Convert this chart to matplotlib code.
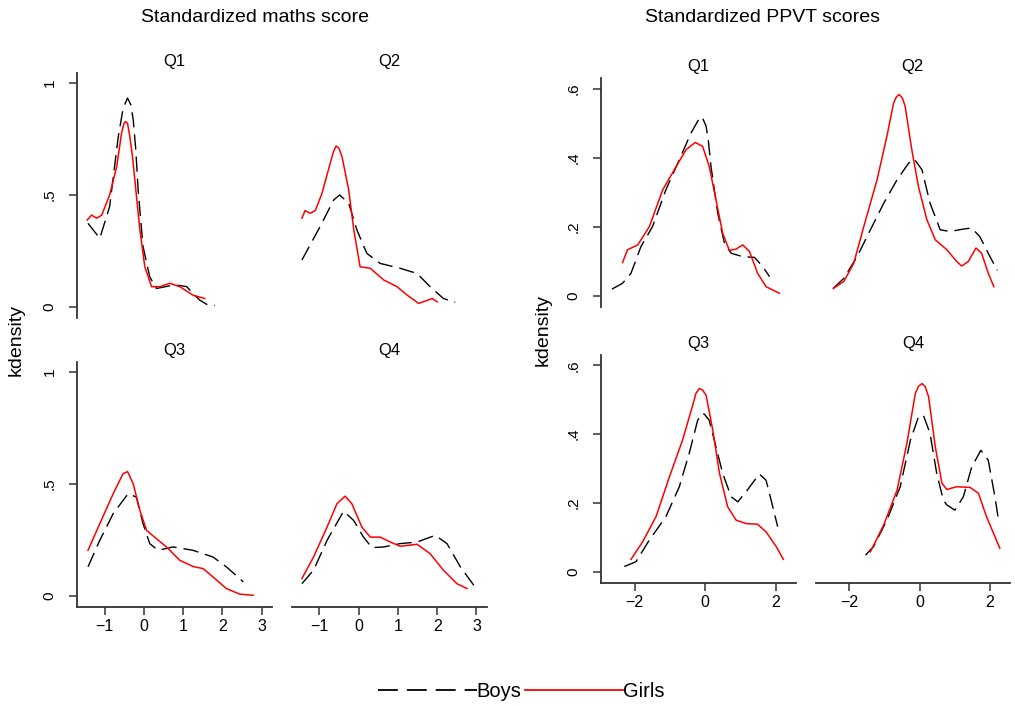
import matplotlib
matplotlib.use("Agg")
import matplotlib.pyplot as plt
from matplotlib.lines import Line2D

plt.rcParams['font.family'] = ['Liberation Sans', 'DejaVu Sans']

# ---- data (x, kdensity) ----
# maths scores
m_q1_boys_x = [-1.42, -1.12, -0.87, -0.65, -0.526, -0.415, -0.331, -0.27, -0.204, -0.145, -0.02, 0.15, 0.32, 0.55, 0.745, 0.92, 1.09, 1.25, 1.42, 1.6, 1.81]
m_q1_boys_y = [0.373, 0.306, 0.448, 0.761, 0.888, 0.933, 0.903, 0.836, 0.701, 0.522, 0.269, 0.134, 0.082, 0.09, 0.097, 0.095, 0.09, 0.06, 0.03, 0.011, 0.006]
m_q1_girls_x = [-1.44, -1.33, -1.2, -1.07, -0.87, -0.69, -0.567, -0.509, -0.466, -0.415, -0.356, -0.288, -0.229, -0.1, 0.025, 0.196, 0.41, 0.66, 0.916, 1.25, 1.55]
m_q1_girls_y = [0.388, 0.41, 0.396, 0.41, 0.5, 0.627, 0.776, 0.818, 0.828, 0.82, 0.761, 0.671, 0.567, 0.343, 0.179, 0.09, 0.09, 0.105, 0.09, 0.052, 0.037]

m_q2_boys_x = [-1.44, -0.98, -0.63, -0.48, -0.25, -0.04, 0.21, 0.55, 1.06, 1.49, 1.82, 2.16, 2.46]
m_q2_boys_y = [0.209, 0.358, 0.478, 0.5, 0.463, 0.343, 0.239, 0.194, 0.172, 0.149, 0.09, 0.037, 0.02]
m_q2_girls_x = [-1.44, -1.36, -1.23, -1.1, -0.93, -0.72, -0.636, -0.57, -0.5, -0.42, -0.25, -0.12, 0.04, 0.3, 0.64, 0.98, 1.24, 1.53, 1.875, 2.0]
m_q2_girls_y = [0.396, 0.43, 0.418, 0.43, 0.507, 0.642, 0.694, 0.719, 0.709, 0.671, 0.522, 0.343, 0.179, 0.172, 0.12, 0.09, 0.052, 0.015, 0.037, 0.022]

m_q3_boys_x = [-1.42, -1.12, -0.78, -0.4, -0.19, -0.02, 0.15, 0.36, 0.745, 1.25, 1.76, 2.1, 2.53]
m_q3_boys_y = [0.128, 0.247, 0.366, 0.455, 0.44, 0.321, 0.232, 0.202, 0.217, 0.202, 0.172, 0.128, 0.061]
m_q3_girls_x = [-1.42, -1.12, -0.78, -0.53, -0.415, -0.27, -0.1, 0.07, 0.32, 0.575, 0.916, 1.25, 1.51, 1.76, 2.1, 2.44, 2.78]
m_q3_girls_y = [0.202, 0.321, 0.455, 0.544, 0.554, 0.499, 0.38, 0.291, 0.254, 0.217, 0.157, 0.13, 0.12, 0.083, 0.031, 0.006, 0.001]

m_q4_boys_x = [-1.44, -1.145, -0.8, -0.38, -0.127, 0.127, 0.34, 0.64, 1.06, 1.49, 1.95, 2.25, 2.59, 2.93]
m_q4_boys_y = [0.053, 0.113, 0.247, 0.377, 0.336, 0.261, 0.214, 0.217, 0.232, 0.239, 0.269, 0.232, 0.128, 0.046]
m_q4_girls_x = [-1.44, -1.145, -0.8, -0.55, -0.34, -0.17, 0.085, 0.3, 0.55, 0.81, 1.06, 1.49, 1.82, 2.16, 2.5, 2.76]
m_q4_girls_y = [0.076, 0.172, 0.306, 0.41, 0.444, 0.41, 0.306, 0.261, 0.261, 0.239, 0.22, 0.229, 0.187, 0.113, 0.053, 0.031]

# PPVT scores
p_q1_boys_x = [-2.64, -2.34, -2.1, -1.82, -1.49, -1.11, -0.73, -0.4, -0.14, -0.07, 0.03, 0.09, 0.17, 0.36, 0.55, 0.74, 1.07, 1.4, 1.64, 1.83]
p_q1_boys_y = [0.019, 0.036, 0.065, 0.142, 0.2, 0.307, 0.394, 0.471, 0.518, 0.515, 0.491, 0.452, 0.374, 0.239, 0.152, 0.123, 0.113, 0.111, 0.084, 0.055]
p_q1_girls_x = [-2.34, -2.2, -1.91, -1.58, -1.2, -0.82, -0.54, -0.28, -0.07, 0.12, 0.31, 0.5, 0.69, 0.88, 1.07, 1.26, 1.49, 1.73, 2.11]
p_q1_girls_y = [0.096, 0.133, 0.147, 0.2, 0.307, 0.374, 0.423, 0.444, 0.433, 0.374, 0.278, 0.181, 0.131, 0.135, 0.147, 0.128, 0.065, 0.026, 0.007]

p_q2_boys_x = [-2.46, -2.16, -1.78, -1.4, -1.02, -0.64, -0.31, -0.15, 0.07, 0.3, 0.59, 0.87, 1.25, 1.49, 1.72, 2.01, 2.22]
p_q2_boys_y = [0.021, 0.05, 0.113, 0.191, 0.268, 0.336, 0.384, 0.396, 0.365, 0.268, 0.191, 0.186, 0.193, 0.196, 0.171, 0.113, 0.073]
p_q2_girls_x = [-2.46, -2.16, -1.875, -1.59, -1.21, -0.93, -0.74, -0.66, -0.58, -0.49, -0.41, -0.22, -0.03, 0.21, 0.45, 0.78, 1.06, 1.2, 1.39, 1.61, 1.77, 1.96, 2.12]
p_q2_girls_y = [0.021, 0.041, 0.094, 0.2, 0.336, 0.462, 0.558, 0.576, 0.583, 0.573, 0.549, 0.423, 0.316, 0.22, 0.162, 0.133, 0.099, 0.086, 0.099, 0.138, 0.123, 0.065, 0.026]

p_q3_boys_x = [-2.29, -1.96, -1.58, -1.11, -0.73, -0.45, -0.21, -0.09, -0.02, 0.12, 0.31, 0.5, 0.74, 0.93, 1.16, 1.54, 1.73, 1.875, 2.06]
p_q3_boys_y = [0.015, 0.029, 0.092, 0.16, 0.247, 0.344, 0.44, 0.46, 0.458, 0.44, 0.363, 0.286, 0.218, 0.203, 0.232, 0.284, 0.266, 0.208, 0.131]
p_q3_girls_x = [-2.1, -1.77, -1.39, -1.01, -0.64, -0.35, -0.26, -0.16, -0.07, 0.03, 0.22, 0.41, 0.64, 0.88, 1.16, 1.49, 1.73, 2.02, 2.22]
p_q3_girls_y = [0.036, 0.087, 0.16, 0.276, 0.382, 0.484, 0.518, 0.533, 0.528, 0.513, 0.411, 0.286, 0.189, 0.15, 0.14, 0.138, 0.116, 0.073, 0.036]

p_q4_boys_x = [-1.54, -1.31, -0.93, -0.55, -0.26, -0.03, 0.11, 0.3, 0.49, 0.68, 0.78, 1.01, 1.25, 1.49, 1.75, 1.96, 2.15, 2.26]
p_q4_boys_y = [0.048, 0.073, 0.15, 0.247, 0.382, 0.45, 0.455, 0.402, 0.286, 0.208, 0.194, 0.179, 0.218, 0.305, 0.353, 0.324, 0.218, 0.145]
p_q4_girls_x = [-1.4, -1.02, -0.64, -0.36, -0.12, -0.03, 0.07, 0.16, 0.26, 0.45, 0.64, 0.78, 1.06, 1.44, 1.68, 1.91, 2.29]
p_q4_girls_y = [0.058, 0.136, 0.237, 0.373, 0.518, 0.539, 0.547, 0.539, 0.508, 0.363, 0.257, 0.239, 0.247, 0.245, 0.228, 0.16, 0.068]

titles = ['Q1', 'Q2', 'Q3', 'Q4']
m_yticks = [0, 0.5, 1]
m_yticklabels = ['0', '.5', '1']
m_xticks = [-1, 0, 1, 2, 3]
m_xticklabels = ['\u22121', '0', '1', '2', '3']
p_yticks = [0, 0.2, 0.4, 0.6]
p_yticklabels = ['0', '.2', '.4', '.6']
p_xticks = [-2, 0, 2]
p_xticklabels = ['\u22122', '0', '2']

W, H = 1015, 706
fig = plt.figure(figsize=(W / 100, H / 100), dpi=100, facecolor='white')

def px_axes(l, t, r, b):
    return fig.add_axes([l / W, 1 - b / H, (r - l) / W, (b - t) / H])

dash = (0, (11, 5))
red = '#ff0000'

def panel(ax, bx, by, gx, gy, title, show_y, show_x, xlim, ylim, yt, ytl, xt, xtl):
    ax.plot(bx, by, color='black', lw=1.0, linestyle=dash)
    ax.plot(gx, gy, color=red, lw=1.1)
    ax.set_xlim(xlim)
    ax.set_ylim(ylim)
    ax.set_title(title, fontsize=12, pad=5)
    for s in ['top', 'right']:
        ax.spines[s].set_visible(False)
    ax.spines['left'].set_visible(show_y)
    ax.spines['bottom'].set_visible(show_x)
    for s in ['left', 'bottom']:
        ax.spines[s].set_color('#333333')
        ax.spines[s].set_linewidth(1.3)
    if show_y:
        ax.set_yticks(yt)
        ax.set_yticklabels(ytl, rotation=90, va='center', fontsize=11)
        ax.tick_params(axis='y', length=6, width=1.1, color='#333333', pad=8.5)
    else:
        ax.set_yticks([])
    if show_x:
        ax.set_xticks(xt)
        ax.set_xticklabels(xtl, fontsize=11.5)
        ax.tick_params(axis='x', length=6, width=1.1, color='#333333', pad=3)
    else:
        ax.set_xticks([])
    ax.patch.set_alpha(0)

m_xlim = (-1.70, 3.26)
m_ylim = (-0.05, 1.045)
p_xlim = (-2.96, 2.58)
p_ylim = (-0.032, 0.63)

m_data = [(m_q1_boys_x, m_q1_boys_y, m_q1_girls_x, m_q1_girls_y),
          (m_q2_boys_x, m_q2_boys_y, m_q2_girls_x, m_q2_girls_y),
          (m_q3_boys_x, m_q3_boys_y, m_q3_girls_x, m_q3_girls_y),
          (m_q4_boys_x, m_q4_boys_y, m_q4_girls_x, m_q4_girls_y)]
p_data = [(p_q1_boys_x, p_q1_boys_y, p_q1_girls_x, p_q1_girls_y),
          (p_q2_boys_x, p_q2_boys_y, p_q2_girls_x, p_q2_girls_y),
          (p_q3_boys_x, p_q3_boys_y, p_q3_girls_x, p_q3_girls_y),
          (p_q4_boys_x, p_q4_boys_y, p_q4_girls_x, p_q4_girls_y)]

# pixel boxes (left, top, right, bottom)
m_boxes = [(77, 73, 272, 318), (291.7, 73, 486.7, 318),
           (77, 361.7, 272, 606.7), (291.7, 361.7, 486.7, 606.7)]
p_boxes = [(600.7, 78.3, 796, 306.7), (815.7, 78.3, 1010, 306.7),
           (600.7, 355, 796, 582.7), (815.7, 355, 1010, 582.7)]

for i in range(4):
    ax = px_axes(*m_boxes[i])
    bx, by, gx, gy = m_data[i]
    panel(ax, bx, by, gx, gy, titles[i], i in (0, 2), i >= 2,
          m_xlim, m_ylim, m_yticks, m_yticklabels, m_xticks, m_xticklabels)
    ax = px_axes(*p_boxes[i])
    bx, by, gx, gy = p_data[i]
    panel(ax, bx, by, gx, gy, titles[i], i in (0, 2), i >= 2,
          p_xlim, p_ylim, p_yticks, p_yticklabels, p_xticks, p_xticklabels)

fig.text(255 / W, 1 - 18 / H, 'Standardized maths score', ha='center', va='center', fontsize=14)
fig.text(762.5 / W, 1 - 18 / H, 'Standardized PPVT scores', ha='center', va='center', fontsize=14)
fig.text(16 / W, 1 - 340 / H, 'kdensity', rotation=90, ha='center', va='center', fontsize=14)
fig.text(543 / W, 1 - 330.5 / H, 'kdensity', rotation=90, ha='center', va='center', fontsize=14)

handles = [Line2D([], [], color='black', lw=1.3, linestyle=dash),
           Line2D([], [], color=red, lw=1.3)]
fig.legend(handles, ['Boys', 'Girls'], loc='center', bbox_to_anchor=(521.5 / W, 1 - 691.7 / H),
           ncol=2, frameon=False, fontsize=14.5, handlelength=4.9, handletextpad=0.0,
           columnspacing=0.15, borderpad=0, borderaxespad=0)

fig.savefig('out.png', dpi=100, facecolor='white')
